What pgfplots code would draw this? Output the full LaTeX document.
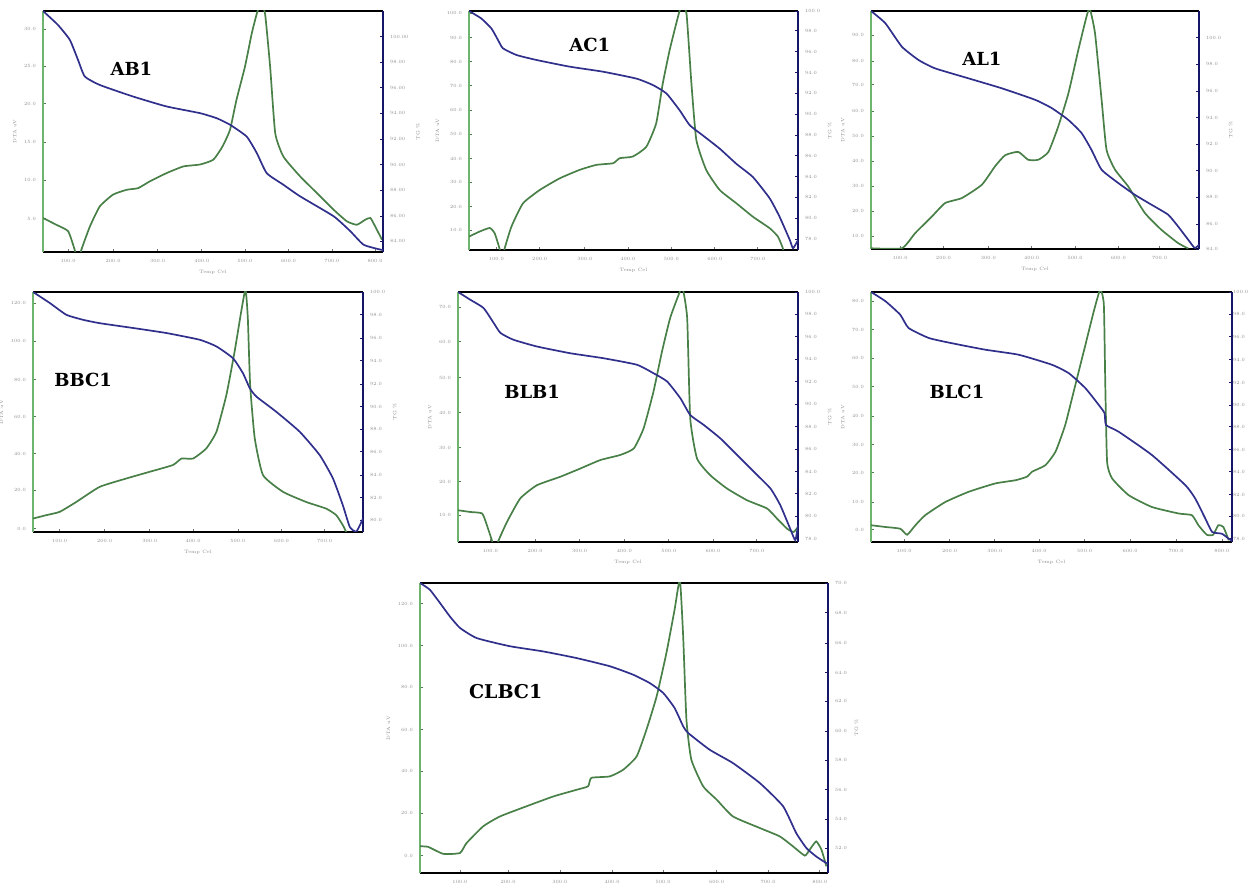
\documentclass[border=0pt]{standalone}
\usepackage{fontspec}
\usepackage{pgfplots}
\pgfplotsset{compat=1.18}
\newfontfamily\lblfont{DejaVu Serif}
\definecolor{dtagreen}{RGB}{72,128,72}
\definecolor{tgblue}{RGB}{48,48,140}
\definecolor{axgreen}{RGB}{110,180,110}
\definecolor{axnavy}{RGB}{22,22,105}
\tikzset{ttl/.style={font={\fontsize{9}{10}\selectfont\lblfont\bfseries}}}
\pgfplotsset{
  base/.style={scale only axis, xmin=0, xmax=100, ymin=0, ymax=100,
    tick align=inside, major tick length=1.6pt, clip mode=individual,
    ticklabel style={font=\fontsize{2.4}{2.6}\selectfont, text=black!45},
    label style={font=\fontsize{2.4}{2.6}\selectfont, text=black!45}},
  leftax/.style={base, axis x line*=box, axis y line*=left, xtick pos=bottom,
    x axis line style={black, line width=1pt},
    y axis line style={axgreen, line width=0.8pt},
    ytick style={dtagreen, line width=0.4pt}, xtick style={black!55, line width=0.4pt},
    ylabel={DTA uV}, xlabel={Temp Cel}, xlabel style={yshift=3pt}, ylabel style={yshift=-3pt}},
  rightax/.style={base, axis x line=none, axis y line*=right, yticklabel pos=right,
    y axis line style={axnavy, line width=1.2pt},
    ytick style={axnavy, line width=0.4pt}, ylabel={TG \%}, ylabel style={yshift=3pt}},
  x7/.style={xticklabels={100.0,200.0,300.0,400.0,500.0,600.0,700.0}},
  x8/.style={xticklabels={100.0,200.0,300.0,400.0,500.0,600.0,700.0,800.0}},
  dta/.style={dtagreen, line width=0.85pt, no markers, smooth, tension=0.3},
  tg/.style={tgblue, line width=0.85pt, no markers, smooth, tension=0.3},
}
\begin{document}
\begin{tikzpicture}
\path[use as bounding box] (0,0) rectangle (624pt,443pt);
% ---------------- AB1
\begin{axis}[leftax, x8, at={(21.5pt,317pt)}, anchor=south west, width=170pt, height=120.5pt,
  xtick={7.4,20.6,33.7,46.7,59.4,72.2,85.0,97.7},
  ytick={13.8,29.8,45.6,61.5,77.1,92.4}, yticklabels={5.0,10.0,15.0,20.0,25.0,30.0}]
\addplot[dta] coordinates {(0,14.1)(3.9,11.3)(7.4,8.6)(9.3,1)(10.3,-4)(11.3,1)(13.8,10.6)(16.7,18.9)(20.6,23.8)(24.6,25.8)(28.0,26.5)(31.4,29.3)(36.3,32.7)(41.3,35.5)(46.2,36.3)(50.1,38.3)(52.8,43.8)(55.0,50.7)(56.9,63.1)(59.4,76.9)(61.4,90.7)(62.9,99)(64.0,103)(65.3,99)(66.8,76.9)(68.3,49.3)(70.7,39.6)(75.6,31.4)(80.6,24.4)(85.5,17.5)(89.4,12.7)(92.3,11.3)(94.8,13.4)(96.3,14.1)(97.7,10.6)(99.7,5.1)};
\node[ttl] at (axis cs:26,76.2) {AB1};
\end{axis}
\begin{axis}[rightax, at={(21.5pt,317pt)}, anchor=south west, width=170pt, height=120.5pt,
  ytick={4.4,14.8,25.6,36.2,46.8,57.6,68.2,78.7,89.4}, yticklabels={84.00,86.00,88.00,90.00,92.00,94.00,96.00,98.00,100.00}]
\addplot[tg] coordinates {(0,100)(4.4,94.2)(7.9,88.0)(10.3,79.7)(12.3,72.8)(16.7,69.3)(26.5,64.5)(36.3,60.4)(46.2,57.6)(51.1,55.5)(55.0,52.8)(59.9,47.9)(62.9,41.0)(65.8,32.7)(70.7,27.9)(75.6,23.1)(85.5,14.8)(90.4,8.6)(94.3,3.0)(99.2,1.0)(100,0.8)};
\end{axis}
% ---------------- AC1
\begin{axis}[leftax, x7, at={(234.5pt,318pt)}, anchor=south west, width=164.5pt, height=119.5pt,
  xtick={8.3,21.5,35.2,48.3,61.5,74.7,87.8},
  ytick={8.4,18.1,28.3,38.2,48.4,58.6,68.8,78.8,88.8,99.0}, yticklabels={10.0,20.0,30.0,40.0,50.0,60.0,70.0,80.0,90.0,100.0}]
\addplot[dta] coordinates {(0,5.6)(3.2,7.7)(6.3,9.2)(7.8,7.0)(9.3,0.5)(10.0,-4)(10.8,0.5)(12.9,9.8)(16.4,19.5)(21.5,25.1)(27.6,30.0)(33.6,33.5)(38.7,35.6)(43.8,36.3)(45.8,38.4)(49.8,39.1)(53.9,43.2)(56.9,53.0)(58.9,69.7)(61.0,83.7)(63.0,94.8)(64.5,102)(66.1,99.0)(67.6,69.7)(69.1,46.0)(72.1,33.5)(76.2,25.1)(81.3,19.5)(86.3,13.9)(91.4,9.1)(93.9,5.6)(95.4,0.7)(96,-3)};
\node[ttl] at (axis cs:36.7,85.8) {AC1};
\end{axis}
\begin{axis}[rightax, at={(234.5pt,318pt)}, anchor=south west, width=164.5pt, height=119.5pt,
  ytick={4.5,13.2,22.0,30.7,39.5,48.1,56.9,65.6,74.2,83.0,91.8,100}, yticklabels={78.0,80.0,82.0,84.0,86.0,88.0,90.0,92.0,94.0,96.0,98.0,100.0}]
\addplot[tg] coordinates {(0,100)(3.7,96.9)(6.8,92.7)(8.8,87.9)(10.3,84.4)(14.4,81.6)(20.5,79.5)(30.6,76.7)(40.7,74.6)(50.9,71.7)(55.9,69.0)(60.0,65.5)(64.0,58.5)(67.1,52.2)(71.1,47.9)(76.2,42.4)(81.3,36.0)(86.3,30.5)(91.4,21.6)(94.4,13.9)(97.5,4.2)(98.5,0.7)(100,4.2)};
\end{axis}
% ---------------- AL1
\begin{axis}[leftax, x7, at={(435.5pt,318.5pt)}, anchor=south west, width=164pt, height=119pt,
  xtick={8.9,22.1,35.8,49.0,62.2,75.4,88.0},
  ytick={5.3,15.8,26.3,36.8,47.3,58.0,69.0,79.0,89.9}, yticklabels={10.0,20.0,30.0,40.0,50.0,60.0,70.0,80.0,90.0}]
\addplot[dta] coordinates {(0,0.3)(9.4,0.3)(13.5,6.7)(18.6,13.7)(22.6,19.3)(27.7,21.4)(33.8,27.0)(37.8,34.7)(40.9,39.4)(44.9,40.8)(47.9,37.5)(51.0,37.5)(54.1,40.8)(57.1,51.5)(60.2,65.5)(63.2,83.6)(65.7,97.6)(66.7,101)(68.3,90.6)(70.3,62.7)(71.8,41.7)(74.4,33.3)(78.4,26.3)(83.5,15.1)(88.5,8.1)(93.6,2.5)(96.7,0.2)};
\node[ttl] at (axis cs:33.8,80.1) {AL1};
\end{axis}
\begin{axis}[rightax, at={(435.5pt,318.5pt)}, anchor=south west, width=164pt, height=119pt,
  ytick={0,10.5,21.7,32.9,44.1,55.2,66.4,77.6,88.8}, yticklabels={84.0,86.0,88.0,90.0,92.0,94.0,96.0,98.0,100.0}]
\addplot[tg] coordinates {(0,100)(4.4,94.8)(9.4,85.0)(14.5,79.4)(19.5,75.9)(29.7,71.7)(39.9,67.5)(50.0,62.7)(55.1,59.2)(60.1,54.3)(64.2,48.7)(67.2,41.7)(70.3,33.3)(75.4,27.7)(80.4,22.8)(85.5,18.6)(90.6,14.4)(93.6,9.5)(96.7,3.9)(98.7,0.4)(100,1.8)};
\end{axis}
% ---------------- BBC1
\begin{axis}[leftax, x7, at={(16.5pt,177pt)}, anchor=south west, width=165pt, height=120pt,
  xtick={8.1,21.7,35.4,48.5,62.1,75.3,88.4},
  ytick={1.4,17.4,32.7,48.1,63.4,79.4,95.4}, yticklabels={0.0,20.0,40.0,60.0,80.0,100.0,120.0}]
\addplot[dta] coordinates {(0,5.6)(4.0,7.0)(8.1,8.4)(13.1,12.5)(20.2,18.8)(28.3,22.3)(35.4,25.1)(42.4,27.9)(45.0,30.6)(48.5,30.6)(52.5,34.8)(55.6,41.8)(58.6,57.1)(61.1,75.2)(63.1,91.9)(64.4,101)(65.1,89.1)(65.8,61.3)(67.2,39.0)(69.7,23.7)(75.8,16.7)(82.8,12.5)(88.9,9.7)(91.9,7.0)(93.9,2.8)(94.9,0)(95.5,-3)};
\node[ttl] at (axis cs:15.2,63.4) {BBC1};
\end{axis}
\begin{axis}[rightax, at={(16.5pt,177pt)}, anchor=south west, width=165pt, height=120pt,
  ytick={4.9,14.3,23.7,33.4,42.9,52.2,61.6,71.3,80.8,90.5,100}, yticklabels={80.0,82.0,84.0,86.0,88.0,90.0,92.0,94.0,96.0,98.0,100.0}]
\addplot[tg] coordinates {(0,100)(5.1,95.4)(10.1,90.5)(15.2,88.4)(20.2,87.0)(30.3,85.0)(40.4,82.9)(50.5,80.1)(55.6,77.3)(60.6,72.4)(63.6,66.2)(65.7,59.9)(67.7,56.4)(73.7,50.1)(80.8,41.8)(86.9,32.0)(90.9,22.3)(93.9,11.1)(96.0,2.1)(98.0,0.2)(100,5.6)};
\end{axis}
% ---------------- BLB1
\begin{axis}[leftax, x7, at={(229pt,172pt)}, anchor=south west, width=170pt, height=125pt,
  xtick={9.5,22.7,35.8,48.9,62.0,75.0,87.9},
  ytick={10.7,24.1,37.7,51.7,65.8,80.2,93.9}, yticklabels={10.0,20.0,30.0,40.0,50.0,60.0,70.0}]
\addplot[dta] coordinates {(0,12.7)(3.6,12.0)(7.1,11.4)(8.5,6.7)(10.0,0.5)(10.9,-4)(11.9,0.5)(14.4,8.0)(18.3,17.4)(23.2,22.7)(30.1,26.1)(36.0,29.4)(41.9,32.8)(47.7,34.8)(51.7,37.4)(54.6,45.5)(57.5,60.2)(60.0,76.2)(62.4,89.6)(64.9,98.9)(66.0,102)(67.4,89.6)(68.3,49.5)(70.3,33.4)(74.2,26.7)(79.1,21.4)(85.0,16.7)(90.9,13.4)(93.8,9.4)(96.8,5.3)(98.7,4.0)(100,6)};
\node[ttl] at (axis cs:21.8,60.2) {BLB1};
\end{axis}
\begin{axis}[rightax, at={(229pt,172pt)}, anchor=south west, width=170pt, height=125pt,
  ytick={1.3,10.4,19.4,28.1,37.2,46.1,55.1,64.2,73.1,82.2,91.2,100}, yticklabels={78.0,80.0,82.0,84.0,86.0,88.0,90.0,92.0,94.0,96.0,98.0,100.0}]
\addplot[tg] coordinates {(0,100)(3.6,96.9)(7.5,93.6)(10.5,87.6)(12.5,83.6)(16.3,80.9)(23.2,78.2)(33.0,75.5)(42.8,73.5)(52.6,70.9)(57.5,67.5)(61.5,64.2)(65.4,57.5)(68.3,50.8)(72.3,46.8)(77.2,41.4)(82.1,34.8)(87.0,28.1)(91.9,21.4)(94.8,14.7)(97.7,5.3)(99.2,0.7)(100,6.7)};
\end{axis}
% ---------------- BLC1
\begin{axis}[leftax, x8, at={(435.5pt,172pt)}, anchor=south west, width=180.5pt, height=125pt,
  xtick={9.2,21.8,34.3,46.6,59.2,71.8,84.5,97.2},
  ytick={4.9,16.0,27.7,39.0,50.4,62.2,73.5,84.9,96.3}, yticklabels={0.0,10.0,20.0,30.0,40.0,50.0,60.0,70.0,80.0}]
\addplot[dta] coordinates {(0,6.7)(4.0,6.0)(8.1,5.3)(10.0,2.9)(12.3,6.7)(15.0,10.7)(20.6,16.0)(27.1,20.1)(34.4,23.4)(40.0,24.7)(43.2,26.1)(44.6,28.1)(48.3,30.7)(51.1,36.1)(53.8,46.8)(56.6,62.8)(59.4,78.9)(61.7,92.2)(63.5,101)(64.5,94.9)(64.9,62.8)(65.4,32.1)(66.8,25.4)(71.4,18.7)(77.8,14.0)(85.2,11.4)(88.9,10.7)(90.7,6.7)(93.0,2.9)(94.8,2.9)(96.2,6.7)(97.6,6.0)(99.1,0.7)};
\node[ttl] at (axis cs:23.8,60.2) {BLC1};
\end{axis}
\begin{axis}[rightax, ylabel={}, yticklabel style={inner sep=0.4pt}, at={(435.5pt,172pt)}, anchor=south west, width=180.5pt, height=125pt,
  ytick={1.3,10.3,19.0,28.1,37.0,46.1,54.8,63.8,72.9,82.2,91.2,100}, yticklabels={78.0,80.0,82.0,84.0,86.0,88.0,90.0,92.0,94.0,96.0,98.0,100.0}]
\addplot[tg] coordinates {(0,100)(4.0,96.3)(8.1,90.9)(10.4,85.6)(16.0,81.6)(22.4,79.5)(31.7,76.9)(40.9,74.9)(50.1,70.9)(54.8,67.5)(59.4,61.5)(63.1,54.8)(64.7,51.5)(65.1,46.8)(68.6,44.1)(77.8,34.8)(87.1,22.7)(89.8,17.4)(92.6,9.4)(94.5,4.0)(97.2,3.3)(99.1,1.3)(100,0.5)};
\end{axis}
% ---------------- CLBC1
\begin{axis}[leftax, x8, xlabel={}, at={(210pt,6.5pt)}, anchor=south west, width=204pt, height=145pt,
  xtick={9.8,21.6,34.3,47.1,59.6,72.7,85.3,98.0},
  ytick={6.0,20.7,35.1,49.4,64.0,78.4,92.8}, yticklabels={0.0,20.0,40.0,60.0,80.0,100.0,120.0}]
\addplot[dta] coordinates {(0,9.2)(2.0,9.0)(5.7,6.6)(9.8,6.9)(11.4,10.3)(15.5,16.1)(19.6,19.5)(26.1,23.0)(32.7,26.4)(38.4,28.7)(41.2,29.9)(42.0,32.8)(46.5,33.3)(49.8,35.6)(53.1,40.2)(55.5,49.4)(58.0,60.9)(60.4,75.9)(62.4,90.8)(63.7,101)(64.5,81.6)(65.3,52.9)(66.5,39.1)(69.4,29.9)(72.7,25.3)(76.7,19.5)(83.3,15.5)(88.2,12.6)(91.4,9.2)(94.3,6.0)(95.5,8.0)(97.1,10.9)(98.4,8.0)(99.6,2.3)};
\node[ttl, font={\fontsize{9.5}{10}\selectfont\lblfont\bfseries}] at (axis cs:21,62.6) {CLBC1};
\end{axis}
\begin{axis}[rightax, at={(210pt,6.5pt)}, anchor=south west, width=204pt, height=145pt,
  ytick={8.6,18.6,28.7,38.9,48.9,59.2,69.0,79.3,89.7,100}, yticklabels={52.0,54.0,56.0,58.0,60.0,62.0,64.0,66.0,68.0,70.0}]
\addplot[tg] coordinates {(0,100)(2.4,97.7)(4.9,93.1)(7.3,88.5)(9.8,84.5)(13.9,81.0)(22.0,78.2)(30.2,76.4)(38.4,74.1)(46.5,71.3)(52.2,68.4)(56.3,65.5)(59.6,62.1)(62.4,56.9)(64.5,50.6)(65.7,48.3)(71.0,42.5)(76.7,37.9)(83.3,31.0)(89.0,23.0)(92.2,13.8)(94.7,8.6)(97.1,5.7)(99.6,3.4)(100,3.2)};
\end{axis}
\end{tikzpicture}
\end{document}
